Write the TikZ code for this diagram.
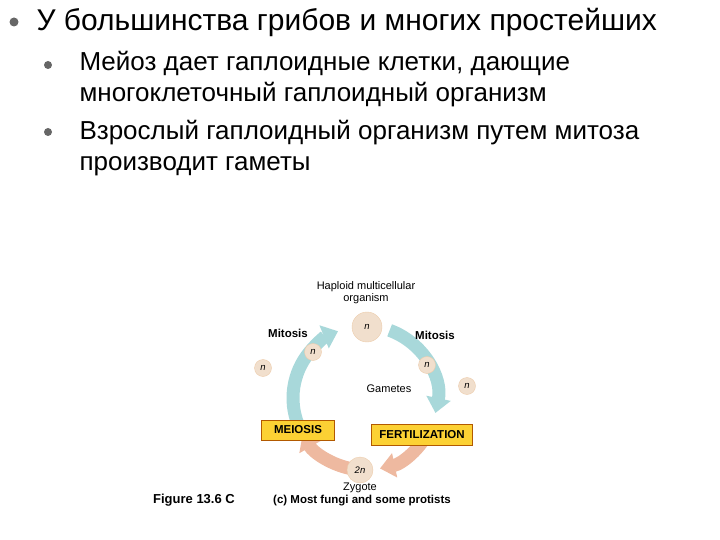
\documentclass[tikz,border=0pt]{standalone}
\usepackage{fontspec}
\setmainfont{Liberation Sans}
\usetikzlibrary{arrows.meta}
\definecolor{tealc}{HTML}{A8D8DA}
\definecolor{salmc}{HTML}{EEB9A0}
\begin{document}
\begin{tikzpicture}[x=1pt,y=-1pt,
  teal/.style={draw=tealc, line width=13pt, -{Triangle[length=15pt,width=24pt]}},
  salm/.style={draw=salmc, line width=13pt, -{Triangle[length=15pt,width=24pt]}},
  cell/.style={circle, fill=orange!15!brown!25, draw=orange!30!brown!40, inner sep=0pt, font=\fontsize{9.5}{10}\selectfont\itshape},
  lab/.style={font=\fontsize{11}{12}\selectfont},
  blab/.style={font=\fontsize{11.5}{13}\selectfont\bfseries},
  box/.style={draw=orange!70!black, fill=yellow!60!orange!80, line width=0.8pt, font=\fontsize{11.5}{13}\selectfont\bfseries, inner sep=3pt},
  bul/.style={circle, fill=black!60, inner sep=0pt, minimum size=9pt}]
\useasboundingbox (0,0) rectangle (720,540);
% text
\node[bul] (b0) at (14,22) {};
\node[anchor=west, font=\fontsize{30}{32}\selectfont] (t0) at (33,22) {У большинства грибов и многих простейших};
\node[bul, minimum size=8pt] (b1) at (48,65) {};
\node[bul, minimum size=8pt] (b2) at (48,132) {};
\node[anchor=west, align=left, font=\fontsize{26}{31}\selectfont] (t1) at (76,79) {Мейоз дает гаплоидные клетки, дающие\\многоклеточный гаплоидный организм};
\node[anchor=west, align=left, font=\fontsize{26}{31}\selectfont] (t2) at (76,148) {Взрослый гаплоидный организм путем митоза\\производит гаметы};
% cycle
\coordinate (c) at (365,398);
\draw[teal] (c) ++(-205:72) arc[start angle=-205, end angle=-112, radius=72];
\draw[teal] (c) ++(-70:72) arc[start angle=-70, end angle=12, radius=72];
\draw[salm] (c) ++(25:72) arc[start angle=25, end angle=78, radius=72];
\draw[salm] (c) ++(100:72) arc[start angle=100, end angle=150, radius=72];
\node[cell, minimum size=30pt] (top) at (367,327) {n};
\node[cell, minimum size=26pt] (zy) at (360,470) {2n};
\node[cell, minimum size=17pt] (n1) at (313,352) {n};
\node[cell, minimum size=17pt] (n2) at (263,368) {n};
\node[cell, minimum size=17pt] (n3) at (427,365) {n};
\node[cell, minimum size=17pt] (n4) at (467,386) {n};
\node[lab, align=center] (hm) at (366,293) {Haploid multicellular\\organism};
\node[blab] (m1) at (288,333) {Mitosis};
\node[blab] (m2) at (435,335) {Mitosis};
\node[lab] (g) at (389,389) {Gametes};
\node[box, minimum width=73pt, minimum height=20pt] (mei) at (298,430) {MEIOSIS};
\node[box, minimum width=101pt, minimum height=21pt] (fer) at (422,435) {FERTILIZATION};
\node[lab] (zt) at (360,488) {Zygote};
\node[blab] (cap) at (362,501) {(c) Most fungi and some protists};
\node[blab, font=\fontsize{13}{14}\selectfont\bfseries] (fig) at (194,500) {Figure 13.6 C};
\end{tikzpicture}
\end{document}
